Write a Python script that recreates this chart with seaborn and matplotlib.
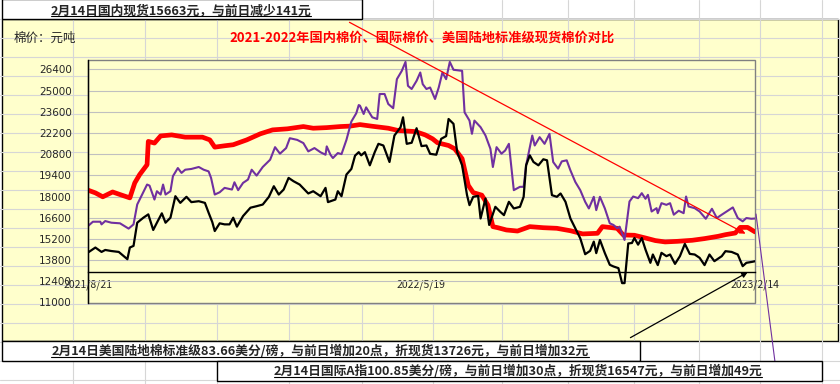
import matplotlib
matplotlib.use("Agg")
import matplotlib.pyplot as plt
import seaborn as sns
from matplotlib.patches import Rectangle

# ---- data (x = days since 2021/8/21) ----
red_days = [0, 6, 12, 20, 26, 34, 38, 42, 48, 49, 54, 59, 68, 79, 93, 99, 103, 111, 118, 129,
            140, 150, 162, 175, 183, 194, 205, 213, 221, 231, 244, 252, 266, 274, 280, 284, 293, 298, 304, 309,
            313, 320, 325, 329, 333, 340, 349, 359, 370, 381, 392, 402, 414, 418, 430, 435, 444, 453, 461, 469,
            479, 491, 501, 512, 518, 526, 530, 536, 542]
red_vals = [18420, 18240, 17980, 18300, 18130, 17910, 18900, 19450, 20100, 21640, 21530, 22000, 22070, 21920, 21920, 21740, 21260, 21350, 21420, 21740,
            22140, 22400, 22470, 22620, 22510, 22550, 22620, 22650, 22750, 22640, 22510, 22360, 22290, 22070, 21810, 21550, 21370, 21150, 20500, 18740,
            18260, 18090, 17430, 16010, 15940, 15790, 15720, 16010, 15940, 15900, 15740, 15530, 15570, 16010, 15900, 15460, 15440, 15260, 15090, 15000,
            15040, 15110, 15220, 15370, 15480, 15590, 15960, 15960, 15663]

purple_days = [0, 4, 10, 11, 14, 19, 26, 33, 37, 40, 44, 48, 50, 54, 56, 59, 61, 63, 67, 69,
               73, 76, 79, 84, 90, 94, 98, 100, 103, 107, 111, 117, 119, 122, 126, 130, 133, 137, 142, 148,
               152, 156, 161, 164, 170, 175, 179, 184, 189, 193, 194, 197, 199, 203, 206, 210, 214, 218, 220, 221,
               224, 226, 231, 235, 237, 241, 244, 248, 251, 255, 258, 260, 263, 267, 270, 272, 275, 278, 282, 285,
               288, 291, 294, 297, 304, 306, 310, 312, 314, 319, 323, 327, 329, 332, 336, 339, 342, 346, 351, 354,
               356, 361, 363, 367, 371, 375, 378, 382, 385, 389, 392, 396, 400, 404, 407, 411, 413, 416, 420, 424,
               427, 430, 432, 436, 440, 443, 447, 450, 453, 455, 458, 462, 463, 466, 470, 473, 476, 480, 484, 486,
               488, 493, 497, 502, 507, 511, 515, 519, 524, 528, 532, 535, 539, 542]
purple_vals = [16050, 16335, 16335, 16160, 16380, 16270, 16230, 15880, 16160, 17475, 18130, 18790, 18720, 17800, 18350, 18130, 18790, 18130, 18350, 19340,
               19880, 19560, 19770, 19820, 19950, 19770, 19660, 19230, 18130, 18280, 18570, 18460, 18940, 18420, 18900, 19120, 19770, 19380, 19950, 20430,
               21260, 20830, 21200, 21850, 21740, 21530, 20980, 21200, 20920, 20760, 21310, 20760, 20540, 20870, 20800, 21740, 22950, 23500, 24040, 24000,
               23450, 23890, 23230, 23120, 24770, 24770, 24110, 23830, 25750, 26300, 26890, 25310, 25100, 25640, 26190, 25420, 25100, 25200, 24440, 25200,
               26190, 25750, 26890, 26370, 26300, 23560, 23015, 22140, 23015, 22580, 22030, 21150, 19950, 21260, 20830, 21040, 21480, 18420, 18640, 18640,
               20060, 22030, 21370, 21920, 21480, 22140, 20280, 19840, 20320, 20390, 19730, 18960, 18420, 17650, 17210, 17980, 17100, 17980, 17210, 16230,
               16120, 15900, 16010, 15130, 17670, 18000, 17890, 18220, 17850, 18110, 17010, 17230, 16900, 17560, 17450, 17560, 16800, 17060, 16900, 18000,
               17340, 17230, 17010, 16530, 17190, 16580, 16800, 17010, 17280, 16580, 16360, 16580, 16530, 16547]

black_days = [0, 6, 11, 14, 19, 25, 32, 34, 37, 40, 45, 49, 53, 56, 60, 63, 67, 71, 75, 80,
              84, 90, 95, 98, 101, 103, 107, 111, 115, 118, 121, 126, 132, 137, 142, 147, 151, 155, 159, 163,
              167, 172, 179, 183, 189, 193, 195, 201, 203, 206, 210, 214, 217, 220, 222, 225, 229, 233, 236, 240,
              245, 249, 254, 256, 259, 263, 267, 271, 275, 278, 283, 287, 291, 293, 297, 300, 304, 308, 310, 313,
              317, 319, 323, 326, 331, 335, 338, 342, 346, 351, 354, 356, 359, 362, 366, 370, 373, 377, 381, 384,
              388, 392, 396, 400, 404, 408, 411, 413, 416, 420, 424, 427, 431, 434, 436, 439, 442, 444, 447, 450,
              453, 457, 459, 463, 466, 470, 473, 477, 481, 485, 489, 493, 497, 501, 505, 509, 515, 518, 523, 528,
              532, 535, 540, 542]
black_vals = [14300, 14630, 14340, 14470, 14400, 14340, 13860, 14630, 14740, 16270, 16600, 16820, 15790, 16270, 16890, 16270, 16600, 18020, 17580, 17980,
              17630, 17690, 17580, 16930, 16310, 15720, 16230, 16160, 16160, 16600, 16010, 16710, 17260, 17360, 17470, 17980, 18680, 18130, 18460, 19230,
              19010, 18790, 18200, 18350, 18020, 18570, 17630, 17800, 18350, 18020, 19450, 19820, 20700, 20930, 20720, 20930, 20060, 20930, 21480, 21370,
              20280, 22030, 22580, 23230, 21480, 21550, 22510, 21330, 21370, 20820, 20760, 21810, 21990, 23120, 22800, 20930, 20060, 18090, 17430, 17980,
              18040, 16550, 17870, 16120, 17320, 16990, 16770, 17650, 17210, 17320, 17980, 20060, 20720, 20280, 20060, 20460, 20390, 18090, 17980, 18200,
              17650, 16550, 15900, 15240, 14190, 14410, 15020, 14260, 15130, 14260, 13490, 13380, 13270, 12280, 12280, 14900, 14930, 15260, 14820, 15260,
              14500, 13620, 14170, 13470, 14280, 14060, 14170, 13550, 14060, 14870, 14210, 14170, 13950, 13470, 14170, 13730, 14060, 14390, 14340, 14170,
              13400, 13620, 13690, 13726]

date_ticks = [0, 271, 542]
date_labels = ["2021/8/21", "2022/5/19", "2023/2/14"]
price_ticks = [11000, 12400, 13800, 15200, 16600, 18000, 19400, 20800, 22200, 23600, 25000, 26400]

title = "2021-2022年国内棉价、国际棉价、美国陆地标准级现货棉价对比"
unit_label = "棉价：元吨"
note_top = "2月14日国内现货15663元，与前日减少141元"
note_us = "2月14日美国陆地棉标准级83.66美分/磅，与前日增加20点，折现货13726元，与前日增加32元"
note_intl = "2月14日国际A指100.85美分/磅，与前日增加30点，折现货16547元，与前日增加49元"

YELLOW = "#FFFFCC"
PURPLE = "#7030A0"

sns.set_style("white")
plt.rcParams["font.family"] = ["Noto Sans CJK SC", "DejaVu Sans"]

W, H = 840, 384
fig = plt.figure(figsize=(8.4, 3.84), dpi=100)

# spreadsheet background + chart area
bg = fig.add_axes([0, 0, 1, 1], zorder=-2)
bg.set_xlim(0, W)
bg.set_ylim(H, 0)
bg.axis("off")
for x in [73, 145, 217, 289, 362, 433, 502, 568, 634, 699, 760, 822]:
    bg.axvline(x, color="#d6d6d6", lw=0.8)
for y in range(19, H, 19):
    bg.axhline(y, color="#d6d6d6", lw=0.8)
bg.add_patch(Rectangle((2, 19), 836, 322, facecolor=YELLOW, edgecolor="black", lw=1))

# plot area
ax = fig.add_axes([88 / W, 1 - 302.5 / H, 667 / W, 242.5 / H], zorder=1)
ax.set_facecolor(YELLOW)
sns.lineplot(x=red_days, y=red_vals, ax=ax, color="red", lw=3.4, estimator=None, sort=False)
sns.lineplot(x=purple_days, y=purple_vals, ax=ax, color=PURPLE, lw=1.5, estimator=None, sort=False)
sns.lineplot(x=black_days, y=black_vals, ax=ax, color="black", lw=1.6, estimator=None, sort=False)

ax.set_xlim(0, 542)
ax.set_ylim(11000, 27016)
ax.set_yticks(price_ticks)
ax.set_xticks(date_ticks, date_labels)
ax.set_xlabel("")
ax.set_ylabel("")
ax.set_axisbelow(True)
ax.grid(axis="y", color="#c0c0c0", lw=0.8)
ax.grid(axis="x", visible=False)
for lab in ax.get_xticklabels() + ax.get_yticklabels():
    lab.set_fontfamily("DejaVu Sans")
ax.tick_params(axis="y", direction="in", length=3, pad=11.5, labelsize=7.5, color="black")
ax.tick_params(axis="x", direction="in", length=3, pad=5.5, labelsize=7.5, color="black")

for s in ["top", "right"]:
    ax.spines[s].set_visible(False)
ax.add_patch(Rectangle((0, 0), 1, 1, transform=ax.transAxes, fill=False,
                       edgecolor="#808080", lw=1, clip_on=False, zorder=0.5))
ax.spines["left"].set_color("black")
ax.spines["left"].set_linewidth(1)
ax.spines["bottom"].set_position(("data", 13000))
ax.spines["bottom"].set_color("black")
ax.spines["bottom"].set_linewidth(1)

# overlay: text boxes, title and leader lines
ov = fig.add_axes([0, 0, 1, 1], zorder=3)
ov.set_xlim(0, W)
ov.set_ylim(H, 0)
ov.axis("off")
ov.patch.set_alpha(0)

ov.plot([756, 775], [214, 362], color=PURPLE, lw=0.8, zorder=1)

ov.add_patch(Rectangle((1.5, -1), 360.5, 20, facecolor="white", edgecolor="black", lw=1, zorder=2))
ov.add_patch(Rectangle((2, 341), 638, 20, facecolor="white", edgecolor="black", lw=1, zorder=2))
ov.add_patch(Rectangle((217, 361), 605, 20, facecolor="white", edgecolor="black", lw=1, zorder=2))

ov.text(14, 38, unit_label, fontsize=9, ha="left", va="center", zorder=3)
ov.text(422, 38, title, fontsize=9.5, color="red", fontweight="bold", ha="center", va="center", zorder=3)

notes = [
    ov.text(181, 10.5, note_top, fontsize=9.2, fontweight="bold", ha="center", va="center", zorder=3),
    ov.text(320, 351.5, note_us, fontsize=9.2, fontweight="bold", ha="center", va="center", zorder=3),
    ov.text(518, 371.5, note_intl, fontsize=9.2, fontweight="bold", ha="center", va="center", zorder=3),
]

ov.annotate("", xy=(748, 235), xytext=(347, 21),
            arrowprops=dict(arrowstyle="-|>", color="red", lw=0.9, mutation_scale=8), zorder=4)
ov.annotate("", xy=(750, 271), xytext=(628, 339),
            arrowprops=dict(arrowstyle="-|>", color="black", lw=0.9, mutation_scale=8), zorder=4)

# underline the notes
fig.canvas.draw()
renderer = fig.canvas.get_renderer()
inv = ov.transData.inverted()
for t in notes:
    bb = t.get_window_extent(renderer)
    x0, y0 = inv.transform((bb.x0, bb.y0))
    x1, _ = inv.transform((bb.x1, bb.y0))
    ov.plot([x0, x1], [y0 - 1.5, y0 - 1.5], color="black", lw=0.8, zorder=3)

fig.savefig("out.png", dpi=100)
